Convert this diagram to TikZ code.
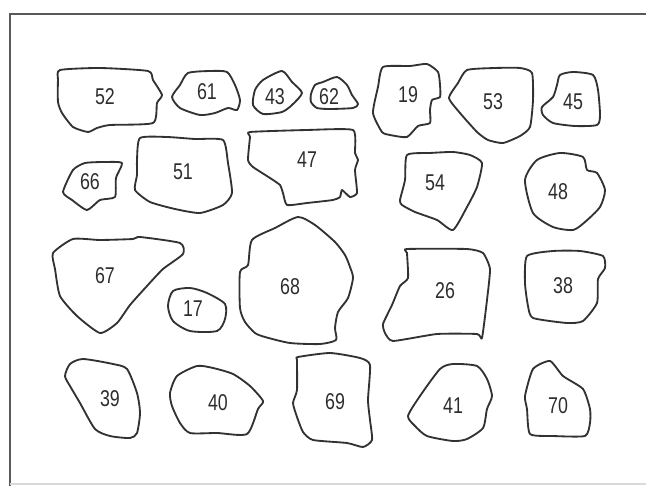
\documentclass[tikz,border=0pt]{standalone}
\usepackage{fontspec}
\setmainfont{Liberation Sans}[FakeStretch=0.78]
\usepackage{tikz}

\begin{document}
\begin{tikzpicture}[x=0.02cm, y=-0.02cm]
  % colours
  \definecolor{stoneline}{RGB}{50,50,50}
  \definecolor{numtext}{RGB}{45,45,45}
  \tikzset{
    stone/.style={draw=stoneline, line width=1.05pt, line join=round},
    num/.style={text=numtext, font=\fontsize{13}{13}\selectfont, inner sep=0pt}
  }
  \useasboundingbox (0,0) rectangle (646,486);

  % frame
  \draw[line width=0.9pt, black!65] (10,486) -- (10,14) -- (646,14);
  \draw[line width=0.6pt, black!15] (10,484) -- (646,484);

  % row 1
  \draw[stone] plot[smooth cycle, tension=0.35] coordinates {(60,70) (100,68) (148,71) (153,80) (162,95) (157,103) (153,123) (110,125) (97,128) (88,132) (73,127) (62,113) (58,102) (58,80)};
  \draw[stone] plot[smooth cycle, tension=0.4] coordinates {(172,97) (180,85) (188,73) (210,71) (227,72) (235,85) (240,100) (237,110) (228,108) (215,113) (200,115) (180,108)};
  \draw[stone] plot[smooth cycle, tension=0.4] coordinates {(255,90) (263,80) (282,71) (292,82) (302,93) (292,105) (282,112) (263,114) (253,105)};
  \draw[stone] plot[smooth cycle, tension=0.4] coordinates {(311,94) (315,85) (323,82) (337,77) (347,85) (352,95) (358,104) (353,108) (330,109) (317,108) (311,102)};
  \draw[stone] plot[smooth cycle, tension=0.35] coordinates {(383,67) (410,66) (427,64) (438,72) (440,85) (440,97) (432,100) (430,110) (430,123) (418,126) (407,137) (390,135) (382,132) (373,113) (378,87)};
  \draw[stone] plot[smooth cycle, tension=0.35] coordinates {(449,98) (458,83) (467,70) (495,68) (520,68) (532,73) (533,100) (530,127) (520,136) (503,143) (488,140) (477,132) (460,113)};
  \draw[stone] plot[smooth cycle, tension=0.4] coordinates {(542,107) (553,97) (557,85) (560,75) (573,72) (593,75) (598,90) (600,115) (597,125) (575,126) (553,123) (543,115)};

  % row 2
  \draw[stone] plot[smooth cycle, tension=0.35] coordinates {(63,192) (73,170) (85,163) (105,162) (122,163) (116,178) (115,197) (100,200) (87,210) (72,200)};
  \draw[stone] plot[smooth cycle, tension=0.35] coordinates {(140,138) (167,137) (195,139) (223,140) (228,163) (232,193) (223,205) (200,213) (175,209) (150,202) (135,190) (137,175) (137,160)};
  \draw[stone] plot[smooth cycle, tension=0.3] coordinates {(250,132) (307,130) (353,130) (355,153) (358,160) (355,170) (357,193) (350,197) (342,190) (340,197) (333,200) (307,203) (287,205) (283,193) (280,185) (270,178) (253,167) (248,160) (250,137)};
  \draw[stone] plot[smooth cycle, tension=0.35] coordinates {(407,155) (430,153) (453,152) (470,155) (482,163) (477,187) (467,207) (453,230) (437,220) (415,212) (402,205) (400,200) (405,180)};
  \draw[stone] plot[smooth cycle, tension=0.4] coordinates {(525,180) (537,160) (560,153) (583,157) (587,170) (597,173) (605,190) (600,207) (585,222) (573,230) (553,227) (533,213)};

  % row 3
  \draw[stone] plot[smooth cycle, tension=0.35] coordinates {(53,253) (73,239) (100,240) (133,239) (140,237) (180,243) (183,254) (163,269) (147,286) (130,305) (117,323) (100,333) (77,316) (60,296) (55,269)};
  \draw[stone] plot[smooth cycle, tension=0.45] coordinates {(168,306) (173,291) (190,288) (207,293) (225,304) (225,319) (217,331) (190,331) (173,321)};
  \draw[stone] plot[smooth cycle, tension=0.4] coordinates {(298,217) (275,228) (252,240) (248,265) (240,272) (240,308) (245,322) (255,333) (265,337) (290,343) (320,344) (336,340) (335,328) (338,312) (348,298) (353,278) (350,267) (345,255) (335,242) (315,225)};
  \draw[stone] plot[smooth cycle, tension=0.3] coordinates {(407,249) (467,249) (483,253) (490,269) (487,300) (482,338) (477,334) (437,334) (393,341) (385,333) (383,324) (392,305) (400,286) (408,278) (407,253)};
  \draw[stone] plot[smooth cycle, tension=0.35] coordinates {(527,256) (553,251) (580,251) (603,256) (605,268) (598,279) (597,303) (583,321) (567,323) (533,318) (528,306) (525,283)};

  % row 4
  \draw[stone] plot[smooth cycle, tension=0.4] coordinates {(65,376) (70,364) (83,359) (113,364) (127,369) (137,393) (140,413) (137,433) (130,438) (110,436) (95,429) (80,403) (70,386)};
  \draw[stone] plot[smooth cycle, tension=0.4] coordinates {(170,393) (177,376) (197,366) (213,368) (233,374) (250,386) (263,401) (258,409) (247,434) (217,433) (190,433) (180,423) (172,406)};
  \draw[stone] plot[smooth cycle, tension=0.35] coordinates {(298,357) (330,353) (360,358) (370,365) (368,400) (370,420) (372,440) (363,447) (347,443) (313,440) (303,432) (297,417) (293,403) (297,390) (297,360)};
  \draw[stone] plot[smooth cycle, tension=0.4] coordinates {(408,416) (420,396) (440,369) (453,364) (477,366) (487,379) (492,396) (487,409) (483,428) (467,439) (453,441) (427,436) (415,426)};
  \draw[stone] plot[smooth cycle, tension=0.35] coordinates {(533,369) (550,361) (563,376) (583,389) (590,409) (590,423) (585,436) (553,436) (530,434) (527,409) (525,396)};

  % numbers
  \node[num] (n52) at (105,97) {52};
  \node[num] (n61) at (207,92) {61};
  \node[num] (n43) at (275,97) {43};
  \node[num] (n62) at (329,97) {62};
  \node[num] (n19) at (408,95) {19};
  \node[num] (n53) at (493,102) {53};
  \node[num] (n45) at (573,102) {45};
  \node[num] (n66) at (90,182) {66};
  \node[num] (n51) at (183,172) {51};
  \node[num] (n47) at (307,160) {47};
  \node[num] (n54) at (435,183) {54};
  \node[num] (n48) at (558,192) {48};
  \node[num] (n67) at (105,276) {67};
  \node[num] (n17) at (193,309) {17};
  \node[num] (n68) at (290,287) {68};
  \node[num] (n26) at (445,291) {26};
  \node[num] (n38) at (563,286) {38};
  \node[num] (n39) at (110,399) {39};
  \node[num] (n40) at (218,403) {40};
  \node[num] (n69) at (335,402) {69};
  \node[num] (n41) at (453,406) {41};
  \node[num] (n70) at (558,406) {70};

\end{tikzpicture}
\end{document}
